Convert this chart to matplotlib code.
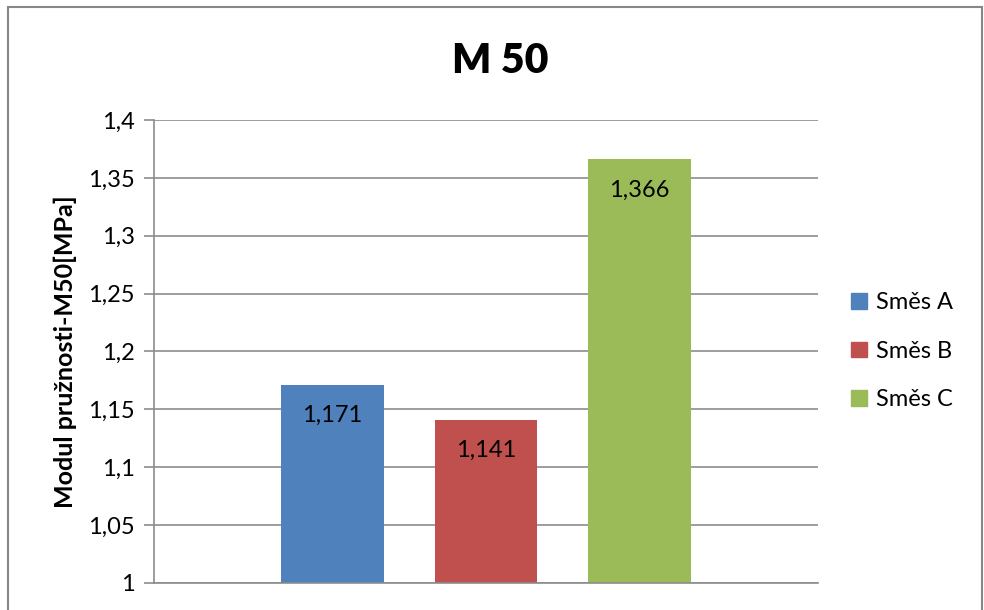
import matplotlib
matplotlib.use("Agg")
import matplotlib.pyplot as plt
from matplotlib.patches import Rectangle

plt.rcParams['font.family'] = ['Lato', 'DejaVu Sans']

series = ["Směs A", "Směs B", "Směs C"]
values = [1.171, 1.141, 1.366]
colors = ["#4F81BD", "#C0504D", "#9BBB59"]
yticks = [1, 1.05, 1.1, 1.15, 1.2, 1.25, 1.3, 1.35, 1.4]

def cz(v):
    return ("%g" % v).replace(".", ",")

fig = plt.figure(figsize=(9.84, 6.10), dpi=100)
ax = fig.add_axes([0.1565, 0.0443, 0.6748, 0.759])

# outer chart border
fig.patches.append(Rectangle((0.008, -0.01), 0.99, 0.998, transform=fig.transFigure,
                             fill=False, edgecolor="#878787", linewidth=1.5))

x = range(len(values))
bars = ax.bar(x, [v - 1 for v in values], bottom=1, width=0.67, color=colors,
              label=series, zorder=2)

for xi, v in zip(x, values):
    ax.annotate(cz(v), (xi, v), xytext=(0, -22), textcoords="offset points",
                ha="center", va="center", fontsize=17)

ax.set_ylim(1, 1.4)
ax.set_xlim(-1.163, 3.163)
ax.set_yticks(yticks)
ax.set_yticklabels([cz(t) for t in yticks], fontsize=17)
ax.set_xticks([])
ax.yaxis.grid(True, color="#8c8c8c", linewidth=1.2, zorder=0)
ax.tick_params(axis="y", length=7, width=1.2, color="#8c8c8c", pad=7)
for s in ["top", "right"]:
    ax.spines[s].set_visible(False)
for s in ["left", "bottom"]:
    ax.spines[s].set_color("#8c8c8c")
    ax.spines[s].set_linewidth(1.2)

ax.set_ylabel("Modul pružnosti-M50[MPa]", fontsize=18, fontweight="bold", labelpad=8)
fig.text(0.508, 0.9, "M 50", ha="center", va="center", fontsize=29.5, fontweight="heavy")

handles = [Rectangle((0, 0), 1, 1, color=c) for c in colors]
fig.legend(handles, series, loc="center left", bbox_to_anchor=(0.865, 0.424),
           frameon=False, fontsize=17, handlelength=0.65, handleheight=0.65,
           handletextpad=0.4, labelspacing=1.17, borderpad=0, borderaxespad=0)

fig.savefig("out.png", dpi=100)
